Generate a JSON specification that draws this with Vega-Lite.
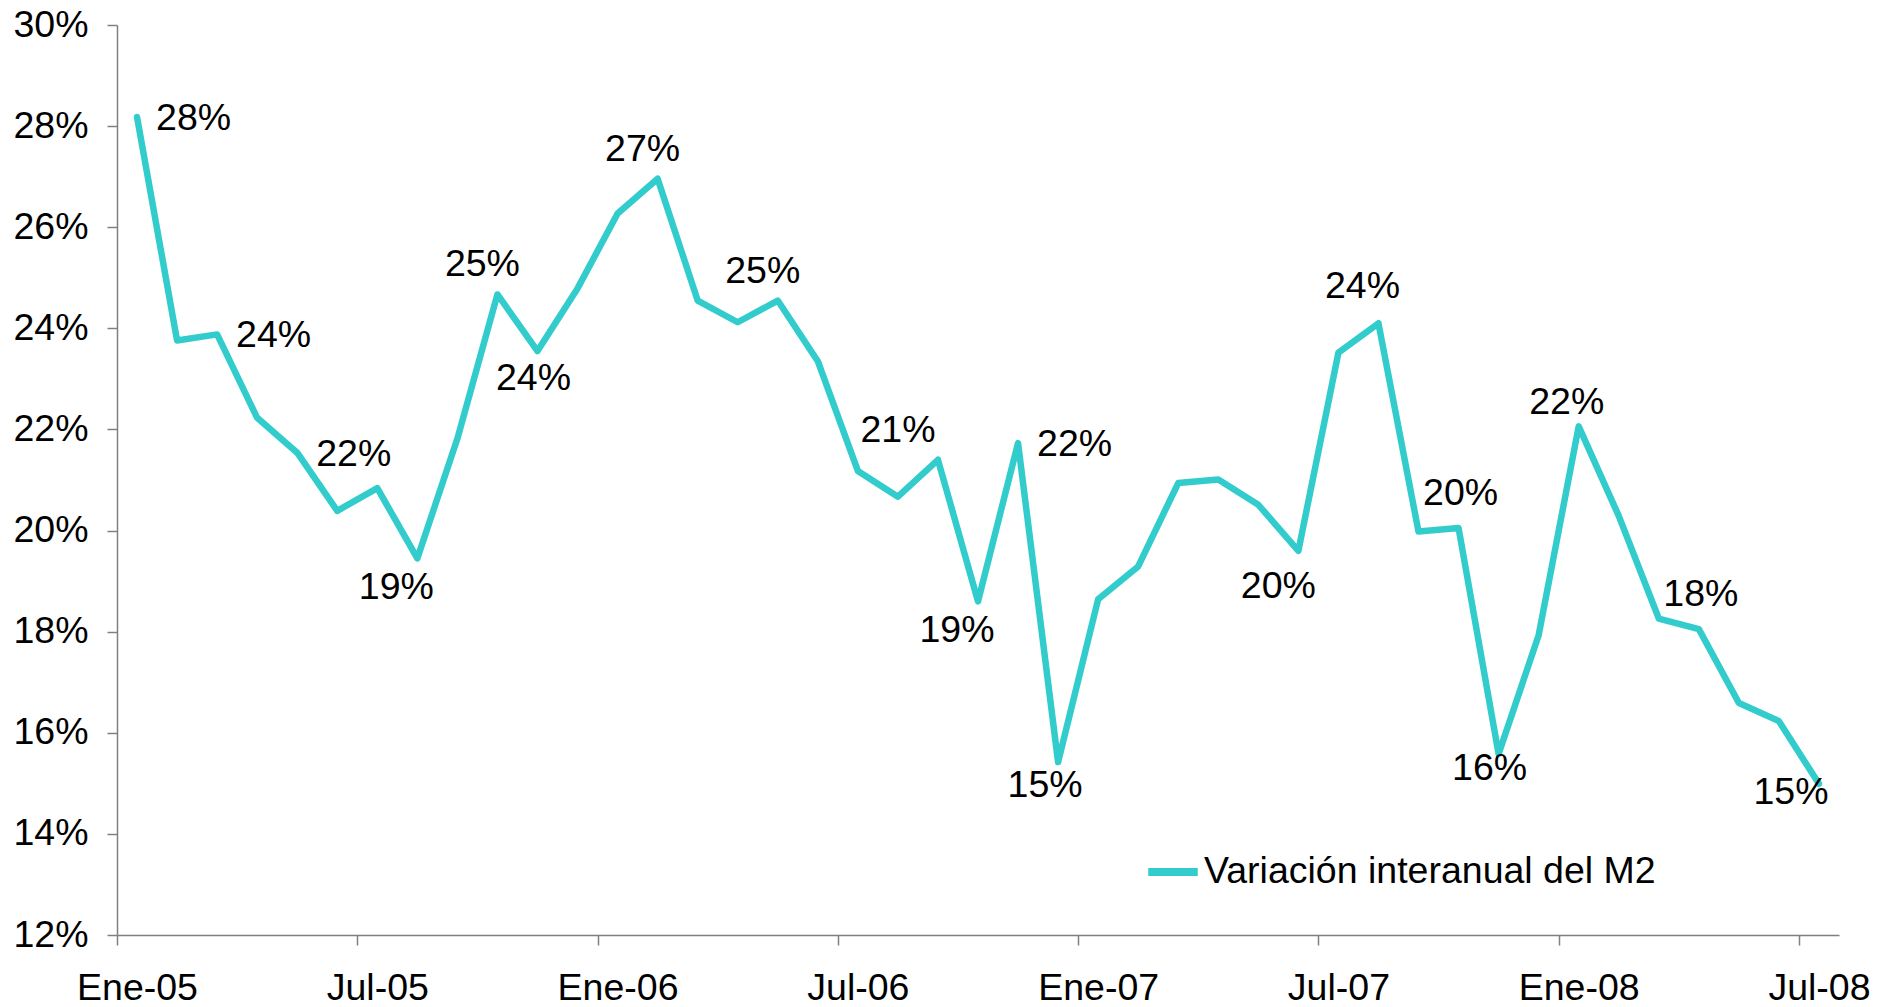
{
  "$schema": "https://vega.github.io/schema/vega-lite/v6.json",
  "width": 1722,
  "height": 910,
  "autosize": {"type": "none"},
  "padding": {"left": 117, "top": 25, "right": 52, "bottom": 72},
  "background": "white",
  "config": {
    "view": {"stroke": null},
    "font": "Liberation Sans",
    "text": {"font": "Liberation Sans", "fontSize": 37.5, "color": "#000000"}
  },
  "data": {
    "values": [
      {"mes": "2005-01", "valor": 0.2818},
      {"mes": "2005-02", "valor": 0.2376},
      {"mes": "2005-03", "valor": 0.2388},
      {"mes": "2005-04", "valor": 0.2223},
      {"mes": "2005-05", "valor": 0.2154},
      {"mes": "2005-06", "valor": 0.2039},
      {"mes": "2005-07", "valor": 0.2084},
      {"mes": "2005-08", "valor": 0.1945},
      {"mes": "2005-09", "valor": 0.2182},
      {"mes": "2005-10", "valor": 0.2467},
      {"mes": "2005-11", "valor": 0.2355},
      {"mes": "2005-12", "valor": 0.2479},
      {"mes": "2006-01", "valor": 0.2627},
      {"mes": "2006-02", "valor": 0.2696},
      {"mes": "2006-03", "valor": 0.2455},
      {"mes": "2006-04", "valor": 0.2412},
      {"mes": "2006-05", "valor": 0.2455},
      {"mes": "2006-06", "valor": 0.2335},
      {"mes": "2006-07", "valor": 0.2118},
      {"mes": "2006-08", "valor": 0.2067},
      {"mes": "2006-09", "valor": 0.2140},
      {"mes": "2006-10", "valor": 0.1860},
      {"mes": "2006-11", "valor": 0.2173},
      {"mes": "2006-12", "valor": 0.1542},
      {"mes": "2007-01", "valor": 0.1864},
      {"mes": "2007-02", "valor": 0.1929},
      {"mes": "2007-03", "valor": 0.2094},
      {"mes": "2007-04", "valor": 0.2101},
      {"mes": "2007-05", "valor": 0.2051},
      {"mes": "2007-06", "valor": 0.1960},
      {"mes": "2007-07", "valor": 0.2352},
      {"mes": "2007-08", "valor": 0.2410},
      {"mes": "2007-09", "valor": 0.1998},
      {"mes": "2007-10", "valor": 0.2005},
      {"mes": "2007-11", "valor": 0.1558},
      {"mes": "2007-12", "valor": 0.1793},
      {"mes": "2008-01", "valor": 0.2206},
      {"mes": "2008-02", "valor": 0.2029},
      {"mes": "2008-03", "valor": 0.1826},
      {"mes": "2008-04", "valor": 0.1805},
      {"mes": "2008-05", "valor": 0.1659},
      {"mes": "2008-06", "valor": 0.1623},
      {"mes": "2008-07", "valor": 0.1499}
    ]
  },
  "encoding": {
    "x": {
      "field": "mes",
      "type": "ordinal",
      "sort": null,
      "scale": {"type": "point", "padding": 0.5},
      "axis": {
        "title": null,
        "values": ["2005-01", "2005-07", "2006-01", "2006-07", "2007-01", "2007-07", "2008-01", "2008-07"],
        "labelExpr": "(substring(datum.value, 5, 7) == '01' ? 'Ene-' : 'Jul-') + substring(datum.value, 2, 4)",
        "labelAngle": 0,
        "labelFont": "Liberation Sans",
        "labelFontSize": 37.5,
        "labelColor": "#000000",
        "labelPadding": 24,
        "tickSize": 10,
        "tickOffset": -20,
        "labelOffset": 20,
        "tickColor": "#808080",
        "domainColor": "#808080",
        "tickWidth": 1.5,
        "domainWidth": 1.5,
        "grid": false
      }
    },
    "y": {
      "field": "valor",
      "type": "quantitative",
      "scale": {"domain": [0.12, 0.30], "nice": false, "zero": false},
      "axis": {
        "title": null,
        "values": [0.12, 0.14, 0.16, 0.18, 0.20, 0.22, 0.24, 0.26, 0.28, 0.30],
        "format": ".0%",
        "labelFont": "Liberation Sans",
        "labelFontSize": 37.5,
        "labelColor": "#000000",
        "labelPadding": 19,
        "tickSize": 10,
        "tickColor": "#808080",
        "domainColor": "#808080",
        "tickWidth": 1.5,
        "domainWidth": 1.5,
        "grid": false
      }
    }
  },
  "layer": [
    {
      "mark": {"type": "line", "strokeWidth": 6.5, "strokeJoin": "round", "strokeCap": "round"},
      "encoding": {
        "color": {
          "datum": "Variación interanual del M2",
          "scale": {"range": ["#33CCCC"]},
          "legend": {
            "title": null,
            "orient": "none",
            "legendX": 1027,
            "legendY": 818,
            "padding": 0,
            "symbolType": "stroke",
            "symbolSize": 2450,
            "symbolStrokeWidth": 8,
            "symbolStrokeColor": "#33CCCC",
            "labelFont": "Liberation Sans",
            "labelFontSize": 37.5,
            "labelColor": "#000000",
            "labelOffset": 2,
            "labelLimit": 800
          }
        }
      }
    },
    {
      "transform": [{"filter": {"field": "mes", "oneOf": ["2005-01", "2005-03", "2005-05", "2006-11"]}}],
      "mark": {"type": "text", "align": "left", "baseline": "middle", "dx": 19, "dy": 2},
      "encoding": {"text": {"field": "valor", "type": "quantitative", "format": ".0%"}}
    },
    {
      "transform": [{"filter": {"field": "mes", "oneOf": ["2005-10", "2006-02", "2006-05"]}}],
      "mark": {"type": "text", "align": "center", "baseline": "middle", "dx": -15, "dy": -29},
      "encoding": {"text": {"field": "valor", "type": "quantitative", "format": ".0%"}}
    },
    {
      "transform": [{"filter": {"field": "mes", "oneOf": ["2007-08"]}}],
      "mark": {"type": "text", "align": "center", "baseline": "middle", "dx": -16, "dy": -36},
      "encoding": {"text": {"field": "valor", "type": "quantitative", "format": ".0%"}}
    },
    {
      "transform": [{"filter": {"field": "mes", "oneOf": ["2008-01"]}}],
      "mark": {"type": "text", "align": "center", "baseline": "middle", "dx": -12, "dy": -23},
      "encoding": {"text": {"field": "valor", "type": "quantitative", "format": ".0%"}}
    },
    {
      "transform": [{"filter": {"field": "mes", "oneOf": ["2007-10", "2008-04"]}}],
      "mark": {"type": "text", "align": "center", "baseline": "middle", "dx": 2, "dy": -34},
      "encoding": {"text": {"field": "valor", "type": "quantitative", "format": ".0%"}}
    },
    {
      "transform": [{"filter": {"field": "mes", "oneOf": ["2006-09"]}}],
      "mark": {"type": "text", "align": "center", "baseline": "middle", "dx": -40, "dy": -29},
      "encoding": {"text": {"field": "valor", "type": "quantitative", "format": ".0%"}}
    },
    {
      "transform": [{"filter": {"field": "mes", "oneOf": ["2005-08", "2006-10"]}}],
      "mark": {"type": "text", "align": "center", "baseline": "middle", "dx": -21, "dy": 30},
      "encoding": {"text": {"field": "valor", "type": "quantitative", "format": ".0%"}}
    },
    {
      "transform": [{"filter": {"field": "mes", "oneOf": ["2007-06"]}}],
      "mark": {"type": "text", "align": "center", "baseline": "middle", "dx": -20, "dy": 36},
      "encoding": {"text": {"field": "valor", "type": "quantitative", "format": ".0%"}}
    },
    {
      "transform": [{"filter": {"field": "mes", "oneOf": ["2006-12"]}}],
      "mark": {"type": "text", "align": "center", "baseline": "middle", "dx": -13, "dy": 24},
      "encoding": {"text": {"field": "valor", "type": "quantitative", "format": ".0%"}}
    },
    {
      "transform": [{"filter": {"field": "mes", "oneOf": ["2005-11"]}}],
      "mark": {"type": "text", "align": "center", "baseline": "middle", "dx": -4, "dy": 28},
      "encoding": {"text": {"field": "valor", "type": "quantitative", "format": ".0%"}}
    },
    {
      "transform": [{"filter": {"field": "mes", "oneOf": ["2007-11"]}}],
      "mark": {"type": "text", "align": "center", "baseline": "middle", "dx": -9, "dy": 15},
      "encoding": {"text": {"field": "valor", "type": "quantitative", "format": ".0%"}}
    },
    {
      "transform": [{"filter": {"field": "mes", "oneOf": ["2008-07"]}}],
      "mark": {"type": "text", "align": "center", "baseline": "middle", "dx": -28, "dy": 9},
      "encoding": {"text": {"field": "valor", "type": "quantitative", "format": ".0%"}}
    }
  ]
}
